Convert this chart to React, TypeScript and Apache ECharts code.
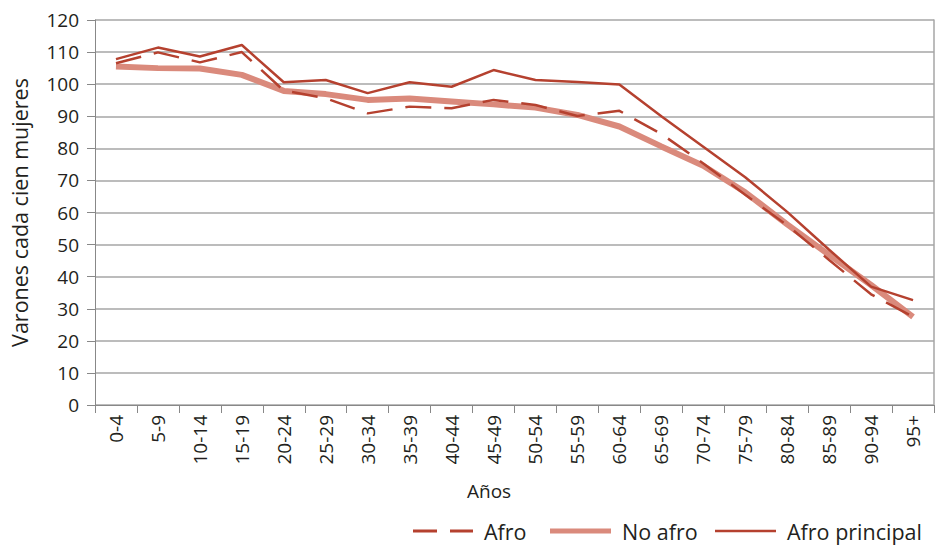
import React, { useEffect, useRef } from "react";
import * as echarts from "echarts";

const categories = ["0-4", "5-9", "10-14", "15-19", "20-24", "25-29", "30-34", "35-39", "40-44", "45-49", "50-54", "55-59", "60-64", "65-69", "70-74", "75-79", "80-84", "85-89", "90-94", "95+"];
const afro = [106.5, 109.9, 106.8, 110, 98, 95.6, 90.9, 93, 92.5, 95.1, 93.5, 90.1, 91.7, 84.5, 75.3, 65.5, 56, 45.2, 34.5, 27.5];
const noAfro = [105.5, 105, 104.9, 102.9, 97.9, 96.9, 95.1, 95.5, 94.6, 93.7, 92.7, 90.4, 86.8, 80.6, 74.6, 66.3, 56.3, 46.8, 37.4, 27.5];
const afroPrincipal = [107.8, 111.4, 108.6, 112.2, 100.6, 101.3, 97.2, 100.6, 99.2, 104.4, 101.3, 100.7, 99.9, 90, 80.5, 71, 60.2, 48.4, 36.9, 32.7];

const FONT = "Open Sans";
const TEXT = "#231F20";
const DARK = "#B5412F";
const LIGHT = "#DA8A7C";

export default function App() {
  const ref = useRef<HTMLDivElement>(null);
  useEffect(() => {
    if (!ref.current) return;
    const chart = echarts.init(ref.current, null, { renderer: "svg" });
    const legendText = { fontFamily: FONT, fontSize: 21.5, color: TEXT, padding: [12, 0, 0, 6] };
    const legendBase = { padding: 0, itemStyle: { borderWidth: 0 }, textStyle: legendText };
    chart.setOption({
      animation: false,
      textStyle: { fontFamily: FONT },
      grid: { left: 95, right: 4, top: 20, bottom: 141 },
      legend: [
        {
          ...legendBase,
          data: [{ name: "Afro", icon: "path://M0,0H24V3H0ZM37,0H60V3H37Z" }],
          left: 413,
          top: 520,
          itemWidth: 60,
          itemHeight: 3,
        },
        {
          ...legendBase,
          data: [{ name: "No afro", icon: "rect" }],
          left: 550,
          top: 520,
          itemWidth: 61,
          itemHeight: 5,
        },
        {
          ...legendBase,
          data: [{ name: "Afro principal", icon: "rect" }],
          left: 715,
          top: 520,
          itemWidth: 61,
          itemHeight: 2.5,
        },
      ],
      xAxis: {
        type: "category",
        data: categories,
        boundaryGap: true,
        axisLine: { lineStyle: { color: "#888888", width: 1 } },
        axisTick: { show: true, length: 8, lineStyle: { color: "#888888" } },
        axisLabel: { rotate: 90, margin: 10, fontSize: 19, color: TEXT, fontFamily: FONT, interval: 0 },
        splitLine: { show: false },
      },
      yAxis: [
        {
          type: "value",
          min: 0,
          max: 120,
          interval: 10,
          name: "Varones cada cien mujeres",
          nameLocation: "middle",
          nameGap: 65,
          nameTextStyle: { fontSize: 21.5, color: TEXT, fontFamily: FONT },
          axisLine: { show: true, lineStyle: { color: "#888888", width: 1 } },
          axisTick: { show: true, length: 8, lineStyle: { color: "#888888" } },
          axisLabel: { margin: 16, fontSize: 19, color: TEXT, fontFamily: FONT },
          splitLine: { show: true, lineStyle: { color: "#A6A6A6", width: 1.5 } },
        },
        {
          type: "value",
          position: "right",
          min: 0,
          max: 120,
          interval: 10,
          axisLine: { show: true, lineStyle: { color: "#A6A6A6", width: 1.5 } },
          axisTick: { show: false },
          axisLabel: { show: false },
          splitLine: { show: false },
        },
      ],
      graphic: [
        {
          type: "text",
          left: 467,
          top: 481,
          style: { text: "Años", fontSize: 19, fill: TEXT, fontFamily: FONT },
        },
      ],
      series: [
        {
          name: "Afro",
          type: "line",
          data: afro,
          symbol: "none",
          z: 3,
          lineStyle: { color: DARK, width: 2.5, type: [26, 13] },
          itemStyle: { color: DARK },
        },
        {
          name: "No afro",
          type: "line",
          data: noAfro,
          symbol: "none",
          z: 2,
          lineStyle: { color: LIGHT, width: 6 },
          itemStyle: { color: LIGHT },
        },
        {
          name: "Afro principal",
          type: "line",
          data: afroPrincipal,
          symbol: "none",
          z: 4,
          lineStyle: { color: DARK, width: 2.5 },
          itemStyle: { color: DARK },
        },
      ],
    });
    return () => chart.dispose();
  }, []);
  return <div ref={ref} style={{ width: 938, height: 546, position: "absolute", left: 0, top: 0 }} />;
}
